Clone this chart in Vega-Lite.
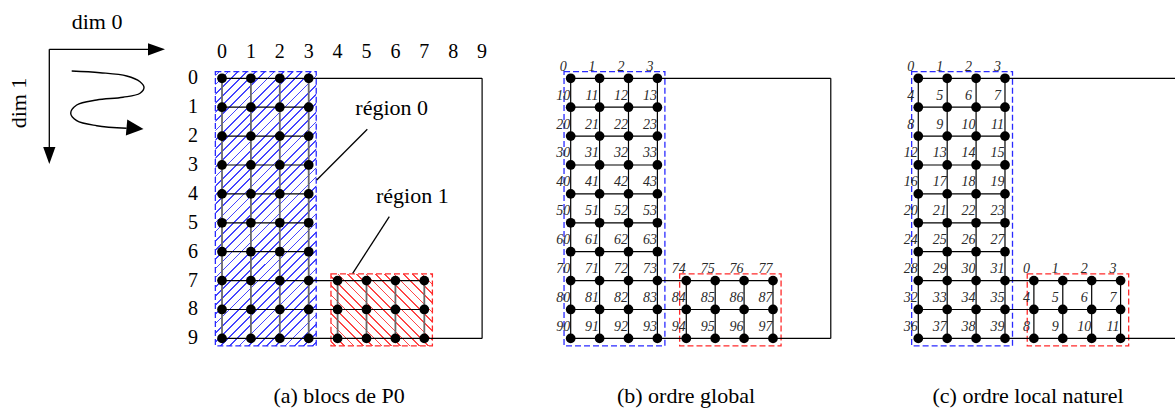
{
  "$schema": "https://vega.github.io/schema/vega-lite/v6.json",
  "padding": 0,
  "spacing": 0,
  "bounds": "flush",
  "background": "#ffffff",
  "config": {"view": {"stroke": null}},
  "datasets": {
    "nodes": [
      {"c":0,"r":0,"g":0,"l":0},{"c":1,"r":0,"g":1,"l":1},{"c":2,"r":0,"g":2,"l":2},{"c":3,"r":0,"g":3,"l":3},
      {"c":0,"r":1,"g":10,"l":4},{"c":1,"r":1,"g":11,"l":5},{"c":2,"r":1,"g":12,"l":6},{"c":3,"r":1,"g":13,"l":7},
      {"c":0,"r":2,"g":20,"l":8},{"c":1,"r":2,"g":21,"l":9},{"c":2,"r":2,"g":22,"l":10},{"c":3,"r":2,"g":23,"l":11},
      {"c":0,"r":3,"g":30,"l":12},{"c":1,"r":3,"g":31,"l":13},{"c":2,"r":3,"g":32,"l":14},{"c":3,"r":3,"g":33,"l":15},
      {"c":0,"r":4,"g":40,"l":16},{"c":1,"r":4,"g":41,"l":17},{"c":2,"r":4,"g":42,"l":18},{"c":3,"r":4,"g":43,"l":19},
      {"c":0,"r":5,"g":50,"l":20},{"c":1,"r":5,"g":51,"l":21},{"c":2,"r":5,"g":52,"l":22},{"c":3,"r":5,"g":53,"l":23},
      {"c":0,"r":6,"g":60,"l":24},{"c":1,"r":6,"g":61,"l":25},{"c":2,"r":6,"g":62,"l":26},{"c":3,"r":6,"g":63,"l":27},
      {"c":0,"r":7,"g":70,"l":28},{"c":1,"r":7,"g":71,"l":29},{"c":2,"r":7,"g":72,"l":30},{"c":3,"r":7,"g":73,"l":31},
      {"c":0,"r":8,"g":80,"l":32},{"c":1,"r":8,"g":81,"l":33},{"c":2,"r":8,"g":82,"l":34},{"c":3,"r":8,"g":83,"l":35},
      {"c":0,"r":9,"g":90,"l":36},{"c":1,"r":9,"g":91,"l":37},{"c":2,"r":9,"g":92,"l":38},{"c":3,"r":9,"g":93,"l":39},
      {"c":4,"r":7,"g":74,"l":0},{"c":5,"r":7,"g":75,"l":1},{"c":6,"r":7,"g":76,"l":2},{"c":7,"r":7,"g":77,"l":3},
      {"c":4,"r":8,"g":84,"l":4},{"c":5,"r":8,"g":85,"l":5},{"c":6,"r":8,"g":86,"l":6},{"c":7,"r":8,"g":87,"l":7},
      {"c":4,"r":9,"g":94,"l":8},{"c":5,"r":9,"g":95,"l":9},{"c":6,"r":9,"g":96,"l":10},{"c":7,"r":9,"g":97,"l":11}
    ],
    "hlines": [
      {"c":0,"r":0,"c2":3,"r2":0},{"c":0,"r":1,"c2":3,"r2":1},{"c":0,"r":2,"c2":3,"r2":2},{"c":0,"r":3,"c2":3,"r2":3},
      {"c":0,"r":4,"c2":3,"r2":4},{"c":0,"r":5,"c2":3,"r2":5},{"c":0,"r":6,"c2":3,"r2":6},
      {"c":0,"r":7,"c2":7,"r2":7},{"c":0,"r":8,"c2":7,"r2":8},{"c":0,"r":9,"c2":9,"r2":9},
      {"c":3,"r":0,"c2":9,"r2":0},{"c":9,"r":0,"c2":9,"r2":9}
    ],
    "vlines": [
      {"c":0,"r":0,"c2":0,"r2":9},{"c":1,"r":0,"c2":1,"r2":9},{"c":2,"r":0,"c2":2,"r2":9},{"c":3,"r":0,"c2":3,"r2":9},
      {"c":4,"r":7,"c2":4,"r2":9},{"c":5,"r":7,"c2":5,"r2":9},{"c":6,"r":7,"c2":6,"r2":9},{"c":7,"r":7,"c2":7,"r2":9}
    ],
    "regions": [
      {"reg":"0","c":-0.23,"r":-0.23,"c2":3.26,"r2":9.26},
      {"reg":"1","c":3.77,"r":6.77,"c2":7.28,"r2":9.26}
    ],
    "axlab": [
      {"c":0,"r":-0.92,"t":"0"},{"c":1,"r":-0.92,"t":"1"},{"c":2,"r":-0.92,"t":"2"},{"c":3,"r":-0.92,"t":"3"},{"c":4,"r":-0.92,"t":"4"},
      {"c":5,"r":-0.92,"t":"5"},{"c":6,"r":-0.92,"t":"6"},{"c":7,"r":-0.92,"t":"7"},{"c":8,"r":-0.92,"t":"8"},{"c":9,"r":-0.92,"t":"9"},
      {"c":-1.0,"r":0,"t":"0"},{"c":-1.0,"r":1,"t":"1"},{"c":-1.0,"r":2,"t":"2"},{"c":-1.0,"r":3,"t":"3"},{"c":-1.0,"r":4,"t":"4"},
      {"c":-1.0,"r":5,"t":"5"},{"c":-1.0,"r":6,"t":"6"},{"c":-1.0,"r":7,"t":"7"},{"c":-1.0,"r":8,"t":"8"},{"c":-1.0,"r":9,"t":"9"}
    ],
    "notes": [
      {"c":5.872,"r":1.028,"t":"région 0"},
      {"c":6.585,"r":4.083,"t":"région 1"},
      {"c":-4.325,"r":-1.931,"t":"dim 0"}
    ],
    "dim1": [{"c":-7.04,"r":0.855,"t":"dim 1"}],
    "segs": [
      {"c":5.028,"r":1.765,"c2":3.277,"r2":3.519},
      {"c":5.789,"r":4.789,"c2":4.522,"r2":6.747},
      {"c":-5.976,"r":-1.003,"c2":-2.49,"r2":-1.003},
      {"c":-5.976,"r":-1.003,"c2":-5.976,"r2":2.49}
    ],
    "heads": [
      {"dir":"right","c":-2.266,"r":-1.003},
      {"dir":"down","c":-5.976,"r":2.671},
      {"dir":"curve","c":-3.01,"r":1.73}
    ],
    "curve": [
      {"k":0,"c":-5.201,"r":-0.253},{"k":1,"c":-4.221,"r":-0.194},{"k":2,"c":-3.298,"r":-0.08},
      {"k":3,"c":-2.837,"r":0.118},{"k":4,"c":-2.699,"r":0.311},{"k":5,"c":-2.837,"r":0.519},
      {"k":6,"c":-3.426,"r":0.657},{"k":7,"c":-4.336,"r":0.751},{"k":8,"c":-5.028,"r":0.924},
      {"k":9,"c":-5.235,"r":1.211},{"k":10,"c":-5.028,"r":1.467},{"k":11,"c":-4.336,"r":1.64},
      {"k":12,"c":-3.3,"r":1.73}
    ],
    "captions": [
      {"p":"a","c":4.05,"r":11.235,"t":"(a) blocs de P0"},
      {"p":"b","c":3.99,"r":11.235,"t":"(b) ordre global"},
      {"p":"c","c":3.8,"r":11.235,"t":"(c) ordre local naturel"}
    ]
  },
  "hconcat": [
    {
      "width": 500,
      "height": 409,
      "encoding": {
        "x": {"field":"c","type":"quantitative","scale":{"domain":[-7.682,9.619],"nice":false,"zero":false},"axis":null},
        "y": {"field":"r","type":"quantitative","scale":{"domain":[-2.709,11.443],"nice":false,"zero":false,"reverse":true},"axis":null}
      },
      "layer": [
        {
          "data": {"name":"regions"},
          "transform": [{"filter":"datum.reg === '0'"}],
          "mark": {"type":"rect","stroke":"#2a2aff","strokeWidth":1.3,"strokeDash":[6,3],
            "fill": {"gradient":"linear","x1":0,"y1":0,"x2":0.443,"y2":1.205,"stops":[
              {"offset":0.008,"color":"#ffffff"},{"offset":0.008,"color":"#4646ff"},{"offset":0.0126,"color":"#4646ff"},{"offset":0.0126,"color":"#ffffff"},
              {"offset":0.0325,"color":"#ffffff"},{"offset":0.0325,"color":"#4646ff"},{"offset":0.0371,"color":"#4646ff"},{"offset":0.0371,"color":"#ffffff"},
              {"offset":0.057,"color":"#ffffff"},{"offset":0.057,"color":"#4646ff"},{"offset":0.0616,"color":"#4646ff"},{"offset":0.0616,"color":"#ffffff"},
              {"offset":0.0815,"color":"#ffffff"},{"offset":0.0815,"color":"#4646ff"},{"offset":0.0861,"color":"#4646ff"},{"offset":0.0861,"color":"#ffffff"},
              {"offset":0.106,"color":"#ffffff"},{"offset":0.106,"color":"#4646ff"},{"offset":0.1106,"color":"#4646ff"},{"offset":0.1106,"color":"#ffffff"},
              {"offset":0.1305,"color":"#ffffff"},{"offset":0.1305,"color":"#4646ff"},{"offset":0.1351,"color":"#4646ff"},{"offset":0.1351,"color":"#ffffff"},
              {"offset":0.155,"color":"#ffffff"},{"offset":0.155,"color":"#4646ff"},{"offset":0.1596,"color":"#4646ff"},{"offset":0.1596,"color":"#ffffff"},
              {"offset":0.1795,"color":"#ffffff"},{"offset":0.1795,"color":"#4646ff"},{"offset":0.1841,"color":"#4646ff"},{"offset":0.1841,"color":"#ffffff"},
              {"offset":0.204,"color":"#ffffff"},{"offset":0.204,"color":"#4646ff"},{"offset":0.2086,"color":"#4646ff"},{"offset":0.2086,"color":"#ffffff"},
              {"offset":0.2285,"color":"#ffffff"},{"offset":0.2285,"color":"#4646ff"},{"offset":0.2331,"color":"#4646ff"},{"offset":0.2331,"color":"#ffffff"},
              {"offset":0.253,"color":"#ffffff"},{"offset":0.253,"color":"#4646ff"},{"offset":0.2576,"color":"#4646ff"},{"offset":0.2576,"color":"#ffffff"},
              {"offset":0.2775,"color":"#ffffff"},{"offset":0.2775,"color":"#4646ff"},{"offset":0.2821,"color":"#4646ff"},{"offset":0.2821,"color":"#ffffff"},
              {"offset":0.302,"color":"#ffffff"},{"offset":0.302,"color":"#4646ff"},{"offset":0.3066,"color":"#4646ff"},{"offset":0.3066,"color":"#ffffff"},
              {"offset":0.3265,"color":"#ffffff"},{"offset":0.3265,"color":"#4646ff"},{"offset":0.3311,"color":"#4646ff"},{"offset":0.3311,"color":"#ffffff"},
              {"offset":0.351,"color":"#ffffff"},{"offset":0.351,"color":"#4646ff"},{"offset":0.3556,"color":"#4646ff"},{"offset":0.3556,"color":"#ffffff"},
              {"offset":0.3755,"color":"#ffffff"},{"offset":0.3755,"color":"#4646ff"},{"offset":0.3801,"color":"#4646ff"},{"offset":0.3801,"color":"#ffffff"},
              {"offset":0.4,"color":"#ffffff"},{"offset":0.4,"color":"#4646ff"},{"offset":0.4046,"color":"#4646ff"},{"offset":0.4046,"color":"#ffffff"},
              {"offset":0.4245,"color":"#ffffff"},{"offset":0.4245,"color":"#4646ff"},{"offset":0.4291,"color":"#4646ff"},{"offset":0.4291,"color":"#ffffff"},
              {"offset":0.449,"color":"#ffffff"},{"offset":0.449,"color":"#4646ff"},{"offset":0.4536,"color":"#4646ff"},{"offset":0.4536,"color":"#ffffff"},
              {"offset":0.4735,"color":"#ffffff"},{"offset":0.4735,"color":"#4646ff"},{"offset":0.4781,"color":"#4646ff"},{"offset":0.4781,"color":"#ffffff"},
              {"offset":0.498,"color":"#ffffff"},{"offset":0.498,"color":"#4646ff"},{"offset":0.5026,"color":"#4646ff"},{"offset":0.5026,"color":"#ffffff"},
              {"offset":0.5225,"color":"#ffffff"},{"offset":0.5225,"color":"#4646ff"},{"offset":0.5271,"color":"#4646ff"},{"offset":0.5271,"color":"#ffffff"},
              {"offset":0.547,"color":"#ffffff"},{"offset":0.547,"color":"#4646ff"},{"offset":0.5516,"color":"#4646ff"},{"offset":0.5516,"color":"#ffffff"},
              {"offset":0.5715,"color":"#ffffff"},{"offset":0.5715,"color":"#4646ff"},{"offset":0.5761,"color":"#4646ff"},{"offset":0.5761,"color":"#ffffff"},
              {"offset":0.596,"color":"#ffffff"},{"offset":0.596,"color":"#4646ff"},{"offset":0.6006,"color":"#4646ff"},{"offset":0.6006,"color":"#ffffff"},
              {"offset":0.6205,"color":"#ffffff"},{"offset":0.6205,"color":"#4646ff"},{"offset":0.6251,"color":"#4646ff"},{"offset":0.6251,"color":"#ffffff"},
              {"offset":0.645,"color":"#ffffff"},{"offset":0.645,"color":"#4646ff"},{"offset":0.6496,"color":"#4646ff"},{"offset":0.6496,"color":"#ffffff"},
              {"offset":0.6695,"color":"#ffffff"},{"offset":0.6695,"color":"#4646ff"},{"offset":0.6741,"color":"#4646ff"},{"offset":0.6741,"color":"#ffffff"},
              {"offset":0.694,"color":"#ffffff"},{"offset":0.694,"color":"#4646ff"},{"offset":0.6986,"color":"#4646ff"},{"offset":0.6986,"color":"#ffffff"},
              {"offset":0.7185,"color":"#ffffff"},{"offset":0.7185,"color":"#4646ff"},{"offset":0.7231,"color":"#4646ff"},{"offset":0.7231,"color":"#ffffff"},
              {"offset":0.743,"color":"#ffffff"},{"offset":0.743,"color":"#4646ff"},{"offset":0.7476,"color":"#4646ff"},{"offset":0.7476,"color":"#ffffff"},
              {"offset":0.7675,"color":"#ffffff"},{"offset":0.7675,"color":"#4646ff"},{"offset":0.7721,"color":"#4646ff"},{"offset":0.7721,"color":"#ffffff"},
              {"offset":0.792,"color":"#ffffff"},{"offset":0.792,"color":"#4646ff"},{"offset":0.7966,"color":"#4646ff"},{"offset":0.7966,"color":"#ffffff"},
              {"offset":0.8165,"color":"#ffffff"},{"offset":0.8165,"color":"#4646ff"},{"offset":0.8211,"color":"#4646ff"},{"offset":0.8211,"color":"#ffffff"},
              {"offset":0.841,"color":"#ffffff"},{"offset":0.841,"color":"#4646ff"},{"offset":0.8456,"color":"#4646ff"},{"offset":0.8456,"color":"#ffffff"},
              {"offset":0.8655,"color":"#ffffff"},{"offset":0.8655,"color":"#4646ff"},{"offset":0.8701,"color":"#4646ff"},{"offset":0.8701,"color":"#ffffff"},
              {"offset":0.89,"color":"#ffffff"},{"offset":0.89,"color":"#4646ff"},{"offset":0.8946,"color":"#4646ff"},{"offset":0.8946,"color":"#ffffff"},
              {"offset":0.9145,"color":"#ffffff"},{"offset":0.9145,"color":"#4646ff"},{"offset":0.9191,"color":"#4646ff"},{"offset":0.9191,"color":"#ffffff"},
              {"offset":0.939,"color":"#ffffff"},{"offset":0.939,"color":"#4646ff"},{"offset":0.9436,"color":"#4646ff"},{"offset":0.9436,"color":"#ffffff"},
              {"offset":0.9635,"color":"#ffffff"},{"offset":0.9635,"color":"#4646ff"},{"offset":0.9681,"color":"#4646ff"},{"offset":0.9681,"color":"#ffffff"},
              {"offset":0.988,"color":"#ffffff"},{"offset":0.988,"color":"#4646ff"},{"offset":0.9926,"color":"#4646ff"},{"offset":0.9926,"color":"#ffffff"}
            ]}
          },
          "encoding": {"x2":{"field":"c2"},"y2":{"field":"r2"}}
        },
        {
          "data": {"name":"regions"},
          "transform": [{"filter":"datum.reg === '1'"}],
          "mark": {"type":"rect","stroke":"#ff2a2a","strokeWidth":1.3,"strokeDash":[6,3],
            "fill": {"gradient":"linear","x1":0,"y1":1,"x2":1.137,"y2":0.193,"stops":[
              {"offset":0.02,"color":"#ffffff"},{"offset":0.02,"color":"#ff4646"},{"offset":0.0298,"color":"#ff4646"},{"offset":0.0298,"color":"#ffffff"},
              {"offset":0.0738,"color":"#ffffff"},{"offset":0.0738,"color":"#ff4646"},{"offset":0.0836,"color":"#ff4646"},{"offset":0.0836,"color":"#ffffff"},
              {"offset":0.1276,"color":"#ffffff"},{"offset":0.1276,"color":"#ff4646"},{"offset":0.1374,"color":"#ff4646"},{"offset":0.1374,"color":"#ffffff"},
              {"offset":0.1814,"color":"#ffffff"},{"offset":0.1814,"color":"#ff4646"},{"offset":0.1912,"color":"#ff4646"},{"offset":0.1912,"color":"#ffffff"},
              {"offset":0.2352,"color":"#ffffff"},{"offset":0.2352,"color":"#ff4646"},{"offset":0.245,"color":"#ff4646"},{"offset":0.245,"color":"#ffffff"},
              {"offset":0.289,"color":"#ffffff"},{"offset":0.289,"color":"#ff4646"},{"offset":0.2988,"color":"#ff4646"},{"offset":0.2988,"color":"#ffffff"},
              {"offset":0.3428,"color":"#ffffff"},{"offset":0.3428,"color":"#ff4646"},{"offset":0.3526,"color":"#ff4646"},{"offset":0.3526,"color":"#ffffff"},
              {"offset":0.3966,"color":"#ffffff"},{"offset":0.3966,"color":"#ff4646"},{"offset":0.4064,"color":"#ff4646"},{"offset":0.4064,"color":"#ffffff"},
              {"offset":0.4504,"color":"#ffffff"},{"offset":0.4504,"color":"#ff4646"},{"offset":0.4602,"color":"#ff4646"},{"offset":0.4602,"color":"#ffffff"},
              {"offset":0.5042,"color":"#ffffff"},{"offset":0.5042,"color":"#ff4646"},{"offset":0.514,"color":"#ff4646"},{"offset":0.514,"color":"#ffffff"},
              {"offset":0.558,"color":"#ffffff"},{"offset":0.558,"color":"#ff4646"},{"offset":0.5678,"color":"#ff4646"},{"offset":0.5678,"color":"#ffffff"},
              {"offset":0.6118,"color":"#ffffff"},{"offset":0.6118,"color":"#ff4646"},{"offset":0.6216,"color":"#ff4646"},{"offset":0.6216,"color":"#ffffff"},
              {"offset":0.6656,"color":"#ffffff"},{"offset":0.6656,"color":"#ff4646"},{"offset":0.6754,"color":"#ff4646"},{"offset":0.6754,"color":"#ffffff"},
              {"offset":0.7194,"color":"#ffffff"},{"offset":0.7194,"color":"#ff4646"},{"offset":0.7292,"color":"#ff4646"},{"offset":0.7292,"color":"#ffffff"},
              {"offset":0.7732,"color":"#ffffff"},{"offset":0.7732,"color":"#ff4646"},{"offset":0.783,"color":"#ff4646"},{"offset":0.783,"color":"#ffffff"},
              {"offset":0.827,"color":"#ffffff"},{"offset":0.827,"color":"#ff4646"},{"offset":0.8368,"color":"#ff4646"},{"offset":0.8368,"color":"#ffffff"},
              {"offset":0.8808,"color":"#ffffff"},{"offset":0.8808,"color":"#ff4646"},{"offset":0.8906,"color":"#ff4646"},{"offset":0.8906,"color":"#ffffff"},
              {"offset":0.9346,"color":"#ffffff"},{"offset":0.9346,"color":"#ff4646"},{"offset":0.9444,"color":"#ff4646"},{"offset":0.9444,"color":"#ffffff"},
              {"offset":0.9884,"color":"#ffffff"},{"offset":0.9884,"color":"#ff4646"},{"offset":0.9982,"color":"#ff4646"},{"offset":0.9982,"color":"#ffffff"}
            ]}
          },
          "encoding": {"x2":{"field":"c2"},"y2":{"field":"r2"}}
        },
        {
          "data": {"name":"vlines"},
          "mark": {"type":"rule","color":"#6a6a6a","strokeWidth":1.8},
          "encoding": {"x2":{"field":"c2"},"y2":{"field":"r2"}}
        },
        {
          "data": {"name":"hlines"},
          "mark": {"type":"rule","color":"#000000","strokeWidth":1.2},
          "encoding": {"x2":{"field":"c2"},"y2":{"field":"r2"}}
        },
        {
          "data": {"name":"nodes"},
          "mark": {"type":"circle","color":"#000000","opacity":1,"size":95}
        },
        {
          "data": {"name":"axlab"},
          "mark": {"type":"text","font":"Liberation Serif","fontSize":20,"baseline":"middle","align":"center","color":"#000000"},
          "encoding": {"text":{"field":"t","type":"nominal"}}
        },
        {
          "data": {"name":"segs"},
          "mark": {"type":"rule","color":"#000000","strokeWidth":1.3},
          "encoding": {"x2":{"field":"c2"},"y2":{"field":"r2"}}
        },
        {
          "data": {"name":"notes"},
          "mark": {"type":"text","font":"Liberation Serif","fontSize":22,"baseline":"middle","align":"center","color":"#000000"},
          "encoding": {"text":{"field":"t","type":"nominal"}}
        },
        {
          "data": {"name":"dim1"},
          "mark": {"type":"text","font":"Liberation Serif","fontSize":22,"baseline":"middle","align":"center","angle":270,"color":"#000000"},
          "encoding": {"text":{"field":"t","type":"nominal"}}
        },
        {
          "data": {"name":"curve"},
          "mark": {"type":"line","color":"#000000","strokeWidth":1.4,"interpolate":"catmull-rom"},
          "encoding": {"order":{"field":"k","type":"quantitative"}}
        },
        {
          "data": {"name":"heads"},
          "transform": [{"filter":"datum.dir === 'right'"}],
          "mark": {"type":"point","shape":"M-1,-0.72L1,0L-1,0.72Z","filled":true,"color":"#000000","opacity":1,"size":289}
        },
        {
          "data": {"name":"heads"},
          "transform": [{"filter":"datum.dir === 'down'"}],
          "mark": {"type":"point","shape":"M-1,-0.72L1,0L-1,0.72Z","filled":true,"color":"#000000","opacity":1,"size":289,"angle":90}
        },
        {
          "data": {"name":"heads"},
          "transform": [{"filter":"datum.dir === 'curve'"}],
          "mark": {"type":"point","shape":"M-1,-0.95L1,0L-1,0.95Z","filled":true,"color":"#000000","opacity":1,"size":289,"angle":5}
        },
        {
          "data": {"name":"captions"},
          "transform": [{"filter":"datum.p === 'a'"}],
          "mark": {"type":"text","font":"Liberation Serif","fontSize":22,"baseline":"alphabetic","align":"center","color":"#000000"},
          "encoding": {"text":{"field":"t","type":"nominal"}}
        }
      ]
    },
    {
      "width": 360,
      "height": 409,
      "encoding": {
        "x": {"field":"c","type":"quantitative","scale":{"domain":[-2.446,10.011],"nice":false,"zero":false},"axis":null},
        "y": {"field":"r","type":"quantitative","scale":{"domain":[-2.709,11.443],"nice":false,"zero":false,"reverse":true},"axis":null}
      },
      "layer": [
        {
          "data": {"name":"regions"},
          "mark": {"type":"rect","fill":null,"strokeWidth":1.3,"strokeDash":[6,3]},
          "encoding": {"x2":{"field":"c2"},"y2":{"field":"r2"},
            "stroke":{"field":"reg","type":"nominal","scale":{"domain":["0","1"],"range":["#2a2aff","#ff2a2a"]},"legend":null}}
        },
        {
          "data": {"name":"vlines"},
          "mark": {"type":"rule","color":"#000000","strokeWidth":1.2},
          "encoding": {"x2":{"field":"c2"},"y2":{"field":"r2"}}
        },
        {
          "data": {"name":"hlines"},
          "mark": {"type":"rule","color":"#000000","strokeWidth":1.2},
          "encoding": {"x2":{"field":"c2"},"y2":{"field":"r2"}}
        },
        {
          "data": {"name":"nodes"},
          "mark": {"type":"circle","color":"#000000","opacity":1,"size":95}
        },
        {
          "data": {"name":"nodes"},
          "mark": {"type":"text","font":"Liberation Serif","fontSize":14,"fontStyle":"italic","baseline":"middle","align":"center","dx":-7.5,"dy":-11.5,"color":"#2a2a2a"},
          "encoding": {"text":{"field":"g","type":"nominal"}}
        },
        {
          "data": {"name":"captions"},
          "transform": [{"filter":"datum.p === 'b'"}],
          "mark": {"type":"text","font":"Liberation Serif","fontSize":22,"baseline":"alphabetic","align":"center","color":"#000000"},
          "encoding": {"text":{"field":"t","type":"nominal"}}
        }
      ]
    },
    {
      "width": 315,
      "height": 409,
      "encoding": {
        "x": {"field":"c","type":"quantitative","scale":{"domain":[-2.017,8.883],"nice":false,"zero":false},"axis":null},
        "y": {"field":"r","type":"quantitative","scale":{"domain":[-2.709,11.443],"nice":false,"zero":false,"reverse":true},"axis":null}
      },
      "layer": [
        {
          "data": {"name":"regions"},
          "mark": {"type":"rect","fill":null,"strokeWidth":1.3,"strokeDash":[6,3]},
          "encoding": {"x2":{"field":"c2"},"y2":{"field":"r2"},
            "stroke":{"field":"reg","type":"nominal","scale":{"domain":["0","1"],"range":["#2a2aff","#ff2a2a"]},"legend":null}}
        },
        {
          "data": {"name":"vlines"},
          "mark": {"type":"rule","color":"#000000","strokeWidth":1.2},
          "encoding": {"x2":{"field":"c2"},"y2":{"field":"r2"}}
        },
        {
          "data": {"name":"hlines"},
          "mark": {"type":"rule","color":"#000000","strokeWidth":1.2,"clip":true},
          "encoding": {"x2":{"field":"c2"},"y2":{"field":"r2"}}
        },
        {
          "data": {"name":"nodes"},
          "mark": {"type":"circle","color":"#000000","opacity":1,"size":95}
        },
        {
          "data": {"name":"nodes"},
          "mark": {"type":"text","font":"Liberation Serif","fontSize":14,"fontStyle":"italic","baseline":"middle","align":"center","dx":-7.5,"dy":-11.5,"color":"#2a2a2a"},
          "encoding": {"text":{"field":"l","type":"nominal"}}
        },
        {
          "data": {"name":"captions"},
          "transform": [{"filter":"datum.p === 'c'"}],
          "mark": {"type":"text","font":"Liberation Serif","fontSize":22,"baseline":"alphabetic","align":"center","color":"#000000"},
          "encoding": {"text":{"field":"t","type":"nominal"}}
        }
      ]
    }
  ]
}
